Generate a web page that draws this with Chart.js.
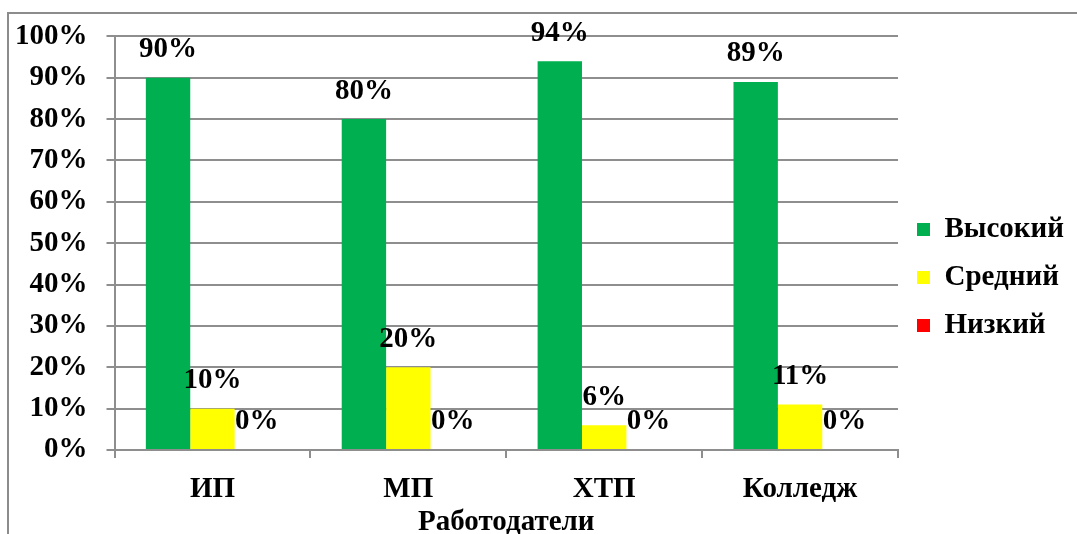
<!DOCTYPE html>
<html>
<head>
<meta charset="utf-8">
<script src="https://cdn.jsdelivr.net/npm/chart.js@4/dist/chart.umd.min.js"></script>
<style>
  html, body { margin: 0; padding: 0; background: #fff; overflow: hidden; }
  #wrap { position: relative; width: 1077px; height: 534px; }
  #frame { position: absolute; left: 7px; top: 12px; width: 1200px; height: 700px;
           border: 2px solid #8c8c8c; pointer-events: none; }
</style>
</head>
<body>
<div id="wrap">
  <canvas id="chart" width="1077" height="534"></canvas>
  <div id="frame"></div>
</div>
<script>
const categories = ['ИП', 'МП', 'ХТП', 'Колледж'];
const high = [90, 80, 94, 89];
const middle = [10, 20, 6, 11];
const low = [0, 0, 0, 0];
const seriesNames = ['Высокий', 'Средний', 'Низкий'];
const axisTitle = 'Работодатели';

const FONT = '"Liberation Serif", "Times New Roman", serif';
const GRID = '#8e8e8e';
const SIZE = 29;

// подписи значений над столбцами
const valueLabels = {
  id: 'valueLabels',
  afterDatasetsDraw(chart) {
    const ctx = chart.ctx;
    ctx.save();
    ctx.font = 'bold ' + SIZE + 'px ' + FONT;
    ctx.fillStyle = '#000';
    ctx.textAlign = 'center';
    ctx.textBaseline = 'middle';
    chart.data.datasets.forEach((ds, i) => {
      const meta = chart.getDatasetMeta(i);
      meta.data.forEach((bar, j) => {
        ctx.fillText(ds.data[j] + '%', bar.x, bar.y - 28);
      });
    });
    ctx.restore();
  }
};

// легенду чуть выше центра, как в оригинале
const legendShift = {
  id: 'legendShift',
  afterLayout(chart) {
    chart.legend.top -= 7;
    chart.legend.bottom -= 7;
  }
};

new Chart(document.getElementById('chart'), {
  type: 'bar',
  data: {
    labels: categories,
    datasets: [
      { label: seriesNames[0], data: high, backgroundColor: '#00B050' },
      { label: seriesNames[1], data: middle, backgroundColor: '#FFFF00' },
      { label: seriesNames[2], data: low, backgroundColor: '#FF0000' }
    ]
  },
  options: {
    responsive: false,
    animation: false,
    categoryPercentage: 0.68,
    barPercentage: 1.0,
    layout: { padding: { top: 35, right: 3, left: 0, bottom: 0 } },
    plugins: {
      tooltip: { enabled: false },
      legend: {
        position: 'right',
        labels: {
          boxWidth: 13,
          boxHeight: 13,
          padding: 19,
          color: '#000',
          font: { family: FONT, size: SIZE, weight: 'bold' }
        }
      }
    },
    scales: {
      x: {
        afterFit(scale) { scale.height -= 11; },
        grid: { drawOnChartArea: false, drawTicks: true, tickLength: 8, color: GRID, lineWidth: 2 },
        border: { color: GRID, width: 2 },
        ticks: { color: '#000', padding: 14, font: { family: FONT, size: SIZE, weight: 'bold' } },
        title: { display: true, text: axisTitle, color: '#000', padding: { top: 1, bottom: 0 },
                 font: { family: FONT, size: SIZE, weight: 'bold', lineHeight: 0.8 } }
      },
      y: {
        min: 0, max: 100,
        afterFit(scale) { scale.width -= 4; },
        grid: { color: GRID, lineWidth: 2, tickLength: 8 },
        border: { color: GRID, width: 2 },
        ticks: { stepSize: 10, color: '#000', padding: 19,
                 font: { family: FONT, size: SIZE, weight: 'bold' },
                 callback: v => v + '%' }
      }
    }
  },
  plugins: [valueLabels, legendShift]
});
</script>
</body>
</html>
